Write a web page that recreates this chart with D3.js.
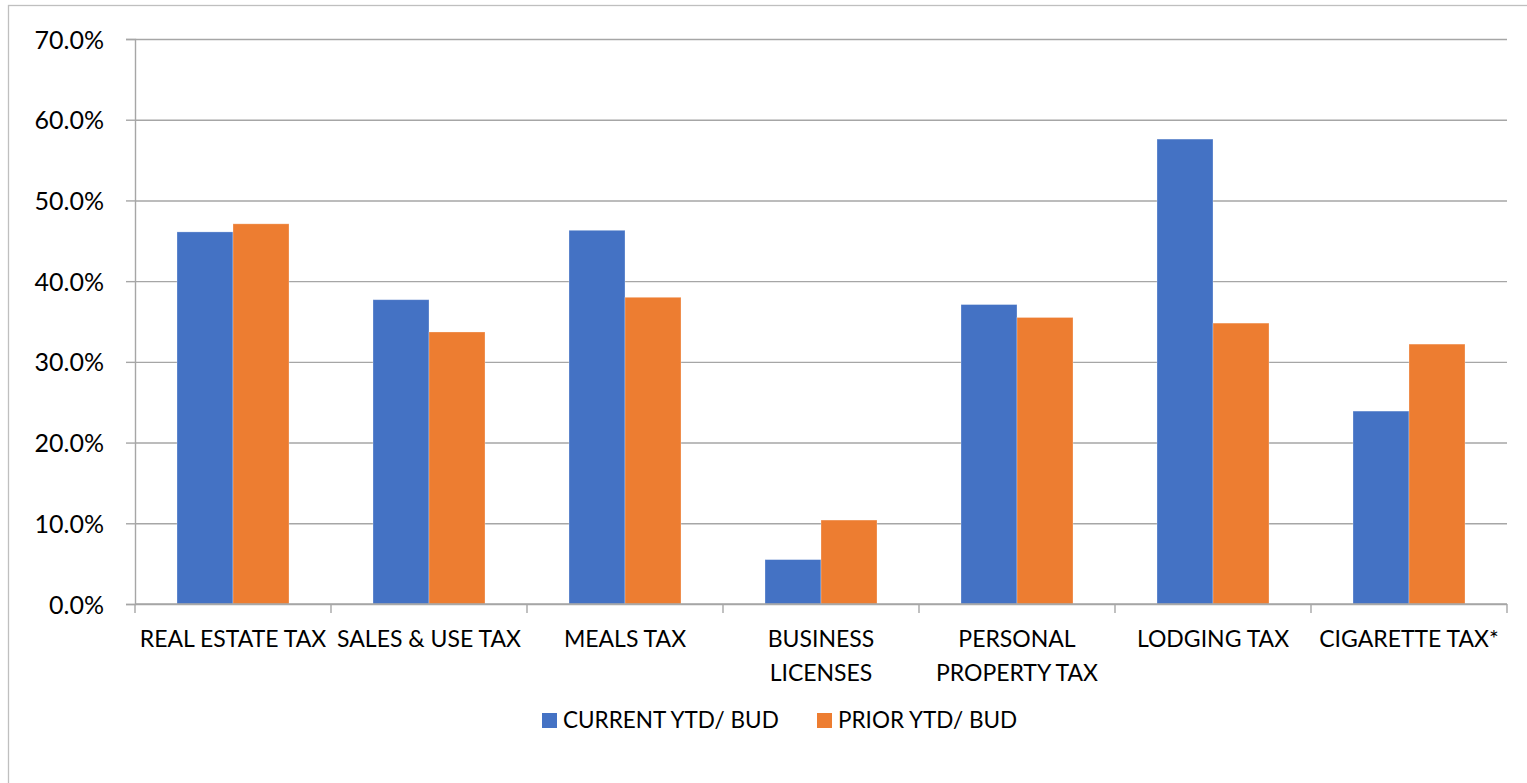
<!DOCTYPE html>
<html>
<head>
<meta charset="utf-8">
<script src="https://cdn.jsdelivr.net/npm/d3@7"></script>
<style>
  html, body { margin: 0; padding: 0; background: #fff; overflow: hidden; }
  text { font-family: Lato, "Open Sans", sans-serif; fill: #000; }
</style>
</head>
<body>
<div id="chart"></div>
<script>
// data
var categories = ["REAL ESTATE TAX", "SALES & USE TAX", "MEALS TAX", "BUSINESS LICENSES",
                  "PERSONAL PROPERTY TAX", "LODGING TAX", "CIGARETTE TAX*"];
var categoryLines = [["REAL ESTATE TAX"], ["SALES & USE TAX"], ["MEALS TAX"], ["BUSINESS", "LICENSES"],
                     ["PERSONAL", "PROPERTY TAX"], ["LODGING TAX"], ["CIGARETTE TAX*"]];
var seriesNames = ["CURRENT YTD/ BUD", "PRIOR YTD/ BUD"];
var currentYtd = [46.1, 37.7, 46.3, 5.5, 37.1, 57.6, 23.9];
var priorYtd = [47.1, 33.7, 38.0, 10.4, 35.5, 34.8, 32.2];
var yTicks = [0, 10, 20, 30, 40, 50, 60, 70];
var colors = ["#4472C4", "#ED7D31"];

var width = 1527, height = 783;
// plot area edges (named so they don't clash with window.top)
var plotLeft = 135, plotRight = 1507, plotTop = 39, plotBottom = 604;

var svg = d3.select("#chart").append("svg")
    .attr("width", width)
    .attr("height", height);

// chart frame (only left and top edges are in view)
svg.append("rect")
    .attr("x", 8.5).attr("y", 5.5)
    .attr("width", width + 20).attr("height", height + 20)
    .attr("fill", "#fff")
    .attr("stroke", "#bfbfbf")
    .attr("stroke-width", 1.3);

var x0 = d3.scaleBand().domain(categories).range([plotLeft, plotRight]).paddingInner(0).paddingOuter(0);
var x1 = d3.scaleBand().domain(seriesNames).range([0, x0.bandwidth()]).paddingInner(0).paddingOuter(0.75);
var y = d3.scaleLinear().domain([0, 70]).range([plotBottom, plotTop]);

// gridlines
svg.append("g")
    .attr("transform", "translate(" + plotLeft + ",0)")
    .call(d3.axisLeft(y).tickValues(yTicks).tickSize(-(plotRight - plotLeft)).tickFormat(""))
    .call(g => g.select(".domain").remove())
    .call(g => g.selectAll("line").attr("stroke", "#a6a6a6").attr("stroke-width", 1.4));

// y axis
svg.append("g")
    .attr("transform", "translate(" + plotLeft + ",0)")
    .call(d3.axisLeft(y).tickValues(yTicks).tickSize(9).tickPadding(22).tickFormat(d => d.toFixed(1) + "%"))
    .call(g => g.select(".domain").attr("stroke", "#a6a6a6").attr("stroke-width", 1.4))
    .call(g => g.selectAll("line").attr("stroke", "#a6a6a6").attr("stroke-width", 1.4))
    .call(g => g.selectAll("text").attr("font-size", 25).attr("font-family", "Lato").attr("fill", "#000").attr("dy", "0.36em"));

// bars
var rows = categories.map((c, i) => ({cat: c, vals: [currentYtd[i], priorYtd[i]]}));
var groups = svg.append("g").selectAll("g")
    .data(rows)
    .enter().append("g")
    .attr("transform", d => "translate(" + x0(d.cat) + ",0)");

groups.selectAll("rect")
    .data(d => d.vals.map((v, j) => ({series: seriesNames[j], v: v, j: j})))
    .enter().append("rect")
    .attr("x", d => x1(d.series))
    .attr("y", d => y(d.v))
    .attr("width", x1.bandwidth())
    .attr("height", d => y(0) - y(d.v))
    .attr("fill", d => colors[d.j])
    .attr("stroke", "#ffffff")
    .attr("stroke-opacity", 0.35)
    .attr("stroke-width", 0.8);

// x axis line + category boundary ticks
var xAxis = svg.append("g").attr("transform", "translate(0," + plotBottom + ")");
xAxis.append("line")
    .attr("x1", plotLeft).attr("x2", plotRight)
    .attr("stroke", "#a6a6a6").attr("stroke-width", 1.4);
xAxis.selectAll(".bt")
    .data(categories.concat([null]))
    .enter().append("line")
    .attr("class", "bt")
    .attr("x1", (d, i) => i < categories.length ? x0(d) : plotRight)
    .attr("x2", (d, i) => i < categories.length ? x0(d) : plotRight)
    .attr("y1", 0).attr("y2", 9)
    .attr("stroke", "#a6a6a6").attr("stroke-width", 1.4);

// category labels
var labels = svg.append("g").selectAll("text")
    .data(categories)
    .enter().append("text")
    .attr("x", d => x0(d) + x0.bandwidth() / 2)
    .attr("y", 647)
    .attr("text-anchor", "middle")
    .attr("font-size", 23);
labels.selectAll("tspan")
    .data((d, i) => categoryLines[i])
    .enter().append("tspan")
    .attr("x", function() { return this.parentNode.getAttribute("x"); })
    .attr("dy", (d, i) => i === 0 ? 0 : 34)
    .text(d => d);

// legend
var legendX = [542, 817];
var legend = svg.append("g").selectAll("g")
    .data(seriesNames)
    .enter().append("g")
    .attr("transform", (d, i) => "translate(" + legendX[i] + ",713)");
legend.append("rect")
    .attr("width", 15).attr("height", 15)
    .attr("fill", (d, i) => colors[i]);
legend.append("text")
    .attr("x", 21).attr("y", 15)
    .attr("font-size", 22.5)
    .text(d => d);
</script>
</body>
</html>
